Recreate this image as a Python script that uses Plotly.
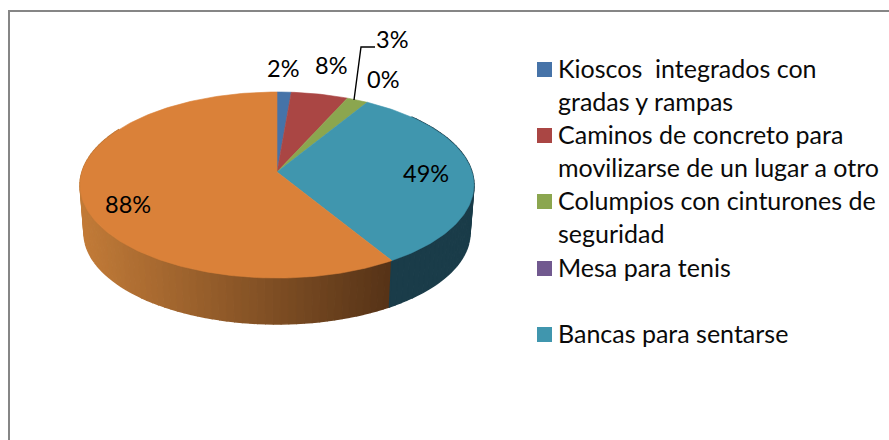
import math
import plotly.graph_objects as go

categories = ["Kioscos  integrados con<br>gradas y rampas",
              "Caminos de concreto para<br>movilizarse de un lugar a otro",
              "Columpios con cinturones de<br>seguridad",
              "Mesa para tenis",
              "Bancas para sentarse",
              ""]
values = [2, 8, 3, 0, 49, 88]
colors = ["#4673A8", "#AA4644", "#8BA64F", "#71598F", "#4096AE", "#DA8139"]

# Label centres and legend layout (pixels)
label_pos = [(283, 68), (331, 65), (392, 39), (383, 79), (426, 173), (128, 204)]
legend_y = [69, 135, 201, 268, 334]
FONT = "Lato"
FS_LABEL = 23.5
FS_LEG = 25

# Projected-circle geometry of the 3D pie
CX, CY, A, B, K = 277, 172, 195, 91.2, 0.14
DROP, SHRINK = 48, 0.98


def rim(t, bottom=False):
    u, v = math.sin(t), math.cos(t)
    d = 1 + K * v
    s = SHRINK if bottom else 1
    return CX + s * A * u / d, CY + (DROP if bottom else 0) - s * B * v / d


def mix(c1, c2, f):
    f = max(0, min(1, f))
    return "#%02x%02x%02x" % tuple(round(a + (b - a) * f) for a, b in zip(c1, c2))


total = sum(values)
edges = [0]
for v in values:
    edges.append(edges[-1] + v / total * 2 * math.pi)

fig = go.Figure()


def poly(xs, ys, color, lw=0.6):
    fig.add_trace(go.Scatter(x=xs, y=ys, mode="lines", fill="toself", fillcolor=color,
                             line=dict(color=color, width=lw), hoverinfo="skip", showlegend=False))


# Side wall: teal then orange, visible part only
def wall(t0, t1, shade):
    n = max(2, int(abs(t1 - t0) / math.radians(2)))
    for i in range(n):
        a = t0 + (t1 - t0) * i / n
        b = t0 + (t1 - t0) * (i + 1) / n
        pts_top = [rim(a), rim(b)]
        pts_bot = [rim(b, True), rim(a, True)]
        xs = [p[0] for p in pts_top + pts_bot]
        ys = [p[1] for p in pts_top + pts_bot]
        poly(xs, ys, shade((pts_top[0][0] + pts_top[1][0]) / 2), lw=1.5)


# Orange wall runs from the left (light) to the front-right (dark); drawn first so the
# dark end's stroke is covered by the teal wall's straight seam.
wall(math.radians(300), edges[5],
     lambda x: mix((0xC2, 0x7B, 0x38), (0x56, 0x33, 0x17), (x - 80) / 310))
wall(edges[5] - math.radians(100), edges[5],
     lambda x: "#1a3c49")

# Top faces
for i, v in enumerate(values):
    if v == 0:
        continue
    n = max(2, int((edges[i + 1] - edges[i]) / math.radians(1)))
    pts = [rim(edges[i] + (edges[i + 1] - edges[i]) * j / n) for j in range(n + 1)]
    poly([CX] + [p[0] for p in pts] + [CX], [CY] + [p[1] for p in pts] + [CY], colors[i])

# Leader line for the 3% label
fig.add_trace(go.Scatter(x=[354, 361, 375], y=[100, 47, 47], mode="lines",
                         line=dict(color="#000000", width=1.4), hoverinfo="skip", showlegend=False))

# Legend swatches
fig.add_trace(go.Scatter(x=[544.5] * 5, y=[y + 0.5 for y in legend_y], mode="markers",
                         marker=dict(symbol="square", size=15, color=colors[:5], line=dict(width=0)),
                         hoverinfo="skip", showlegend=False))

anns = []
for v, (x, y) in zip(values, label_pos):
    anns.append(dict(x=x, y=y, text=f"{v}%", showarrow=False, xanchor="center", yanchor="middle",
                     font=dict(family=FONT, size=FS_LABEL, color="#000000")))
LINE = 33
for cat, y in zip(categories[:5], legend_y):
    for j, part in enumerate(cat.split("<br>")):
        anns.append(dict(x=556, y=y + j * LINE - 1, text=part, showarrow=False, xanchor="left", yanchor="middle",
                         font=dict(family=FONT, size=FS_LEG, color="#0a0a0a")))

frame = [dict(type="line", x0=9, x1=9, y0=11, y1=440, line=dict(color="#868686", width=2)),
         dict(type="line", x0=8, x1=889, y0=11, y1=11, line=dict(color="#868686", width=2))]

fig.update_layout(width=889, height=440, autosize=False, margin=dict(l=0, r=0, t=0, b=0),
                  paper_bgcolor="white", plot_bgcolor="white", annotations=anns, shapes=frame,
                  showlegend=False,
                  xaxis=dict(range=[0, 889], visible=False, fixedrange=True),
                  yaxis=dict(range=[440, 0], visible=False, fixedrange=True))
fig.write_html("out.html", config=dict(displayModeBar=False),
               post_script="document.body.style.margin='0';document.documentElement.style.overflow='hidden';")
